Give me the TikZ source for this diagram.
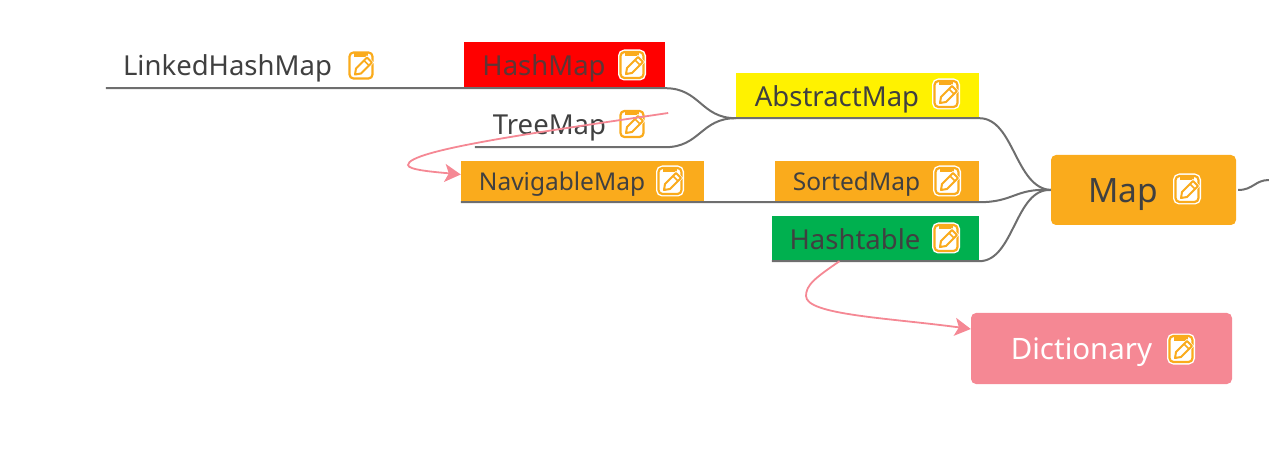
\documentclass[tikz,border=0pt]{standalone}
\usepackage{fontspec}
\setmainfont{Noto Sans}
\usetikzlibrary{arrows.meta,positioning}
\definecolor{notaorange}{HTML}{FAAB1C}
\definecolor{notapink}{HTML}{F58894}
\definecolor{notagreen}{HTML}{00B04F}
\definecolor{notagray}{HTML}{6E6E6E}
\definecolor{notatext}{HTML}{404040}

\begin{document}
\begin{tikzpicture}[
        x=1pt, y=-1pt,
        tema/.style={align=center, inner sep=0pt, text=notatext, font=\fontsize{27.5}{30}\selectfont, text height=28pt, text depth=6pt},
        caja/.style={tema, fill=notaorange},
        chica/.style={caja, font=\fontsize{24.5}{28}\selectfont, text height=24pt, text depth=6pt},
        raiz/.style={caja, rounded corners=5pt, font=\fontsize{33.5}{36}\selectfont, text height=32pt, text depth=7pt},
        rama/.style={draw=notagray, line width=2pt},
        enlace/.style={draw=notapink, line width=1.8pt, -{Stealth[length=16pt, width=18pt, inset=4pt]}},
        notaicono/.pic={
            \draw[white, line width=5pt, fill=white, rounded corners=4pt] (-11.5,-13) rectangle (11.5,13);
            \draw[notaorange, line width=2.2pt, rounded corners=4pt] (-11.5,-13) rectangle (11.5,13);
            \fill[notaorange] (-7,-13.5) rectangle (7,-8.5);
            \draw[white, line width=3pt, fill=white] (-6,9) -- (-5,3) -- (6,-8) -- (11,-3) -- (0,8) -- cycle;
            \draw[notaorange, line width=2pt, line join=round] (-6,9) -- (-5,3) -- (6,-8) -- (11,-3) -- (0,8) -- cycle;
            \draw[notaorange, line width=1.5pt] (3,-5) -- (8,0);
        }
    ]
    \useasboundingbox (0,0) rectangle (1269,470);

    \node[tema, minimum width=282pt, minimum height=46pt] (linked) at (247,65) {LinkedHashMap\hspace{39pt}};
    \node[caja, fill=red, text=notatext!85!red, minimum width=201pt, minimum height=46pt] (hash) at (564.5,65) {HashMap\hspace{41pt}};
    \node[tema, minimum width=190pt, minimum height=46pt] (tree) at (570,124) {TreeMap\hspace{41pt}};
    \node[caja, fill=yellow, minimum width=243pt, minimum height=45pt] (abstract) at (857.5,95.5) {AbstractMap\hspace{41pt}};
    \node[chica, minimum width=243pt, minimum height=41pt] (navigable) at (582.5,181.5) {NavigableMap\hspace{41pt}};
    \node[chica, minimum width=204pt, minimum height=41pt] (sorted) at (877,181.5) {SortedMap\hspace{41pt}};
    \node[caja, fill=notagreen, minimum width=207pt, minimum height=45pt] (hashtable) at (875.5,238.5) {Hashtable\hspace{41pt}};
    \node[raiz, minimum width=185pt, minimum height=70pt] (map) at (1143.5,190) {Map\hspace{41pt}};
    \node[raiz, fill=notapink, text=white, minimum width=261pt, minimum height=71pt, font=\fontsize{29.5}{34}\selectfont, text height=29pt, text depth=7pt] (dictionary) at (1101.5,348.5) {Dictionary\hspace{40pt}};
    \coordinate (mapout) at (1269,180);

    \pic at (361,65.5) {notaicono};
    \pic at (632,65) {notaicono};
    \pic at (632,124) {notaicono};
    \pic at (946,94) {notaicono};
    \pic at (670,181) {notaicono};
    \pic at (947,181) {notaicono};
    \pic at (946,238) {notaicono};
    \pic at (1187,189) {notaicono};
    \pic at (1181,349) {notaicono};

    \draw[rama] (linked.south west) -- (hash.south east) .. controls +(35,0) and ([xshift=-35pt]abstract.south west) .. (abstract.south west);
    \draw[rama] (tree.south west) -- (tree.south east) .. controls +(35,0) and ([xshift=-35pt]abstract.south west) .. (abstract.south west);
    \draw[rama] (abstract.south west) -- (abstract.south east) .. controls +(35,0) and (1015,188) .. (map.west);
    \draw[rama] (navigable.south west) -- (sorted.south east) .. controls +(35,0) and (1015,188) .. (map.west);
    \draw[rama] (hashtable.south west) -- (hashtable.south east) .. controls +(35,0) and (1015,188) .. (map.west);
    \draw[rama] ([xshift=2pt]map.east) .. controls +(15,0) and (1255,180) .. (mapout);

    \draw[enlace] ([xshift=3pt,yshift=11pt]tree.east) .. controls (540,132) and (408,150) .. (408,165) .. controls (408,170) and (435,172) .. ([yshift=7pt]navigable.west);
    \draw[enlace] ([xshift=-36pt]hashtable.south) .. controls (815,278) and (806,285) .. (806,296) .. controls (806,315) and (890,318) .. ([yshift=19.5pt]dictionary.west);
\end{tikzpicture}
\end{document}
